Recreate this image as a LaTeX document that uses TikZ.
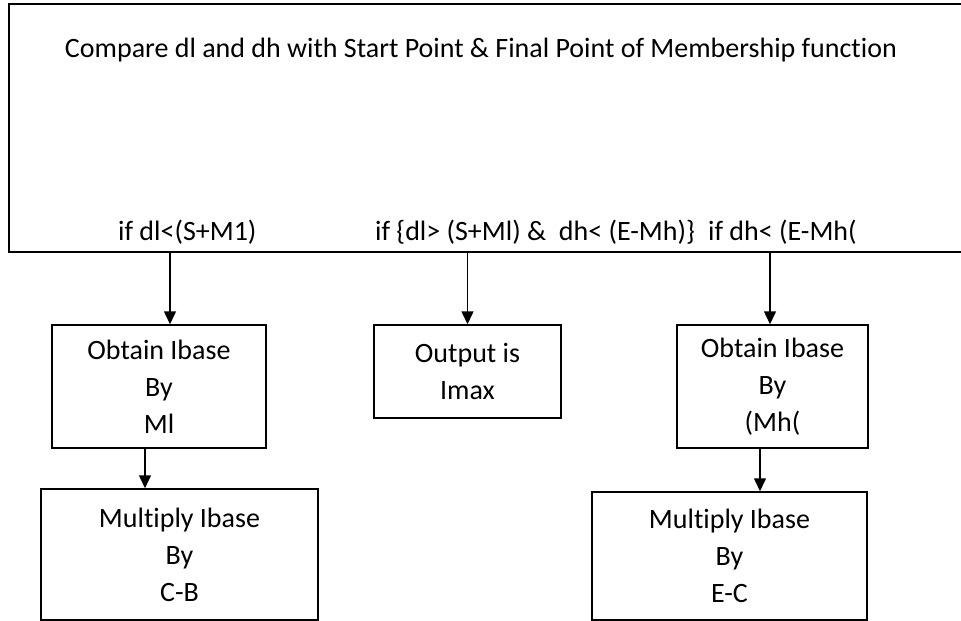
\documentclass[tikz,border=0pt]{standalone}
\usepackage{fontspec}
\setmainfont{Carlito}[Ligatures=NoCommon]
\usetikzlibrary{arrows.meta}
\tikzset{
  box/.style={draw, line width=1.5pt, rectangle, align=center, inner sep=0pt,
    font=\fontsize{28}{37}\selectfont},
  cond/.style={inner sep=0pt, anchor=west, font=\fontsize{28}{37}\selectfont},
  arr/.style={line width=1.5pt, -{Triangle[length=13pt,width=12pt]}},
}
\begin{document}
\begin{tikzpicture}[x=1pt,y=-1pt]
  \useasboundingbox (0,0) rectangle (961,621);
  \clip (0,0) rectangle (961,621);
  % top box, it runs off the right edge
  \node[box, minimum width=970pt, minimum height=248pt] (cmp) at (494,128) {};
  \node[cond, anchor=center] (title) at (481,50)
    {Compare dl and dh with Start Point \& Final Point of Membership function};
  % conditions along the bottom of the top box
  \node[cond] (condL) at (118,232) {if dl<(S+M1)};
  \node[cond] (condM) at (375,232) {if \{dl> (S+Ml) \&\ \ dh< (E-Mh)\}};
  \node[cond] (condR) at (708,232) {if dh< (E-Mh(};
  % second row
  \node[box, minimum width=214pt, minimum height=123pt] (obtL) at (159,386.5)
    {Obtain Ibase\\By\\Ml};
  \node[box, minimum width=187pt, minimum height=93pt] (outM) at (467.5,371.5)
    {Output is\\Imax};
  \node[box, minimum width=191pt, minimum height=123pt] (obtR) at (772.5,386.5)
    {Obtain Ibase\\By\\(Mh(};
  % third row
  \node[box, minimum width=277pt, minimum height=131pt] (mulL) at (179.5,554.5)
    {Multiply Ibase\\By\\C-B};
  \node[box, minimum width=275pt, minimum height=128pt] (mulR) at (729.5,556)
    {Multiply Ibase\\By\\E-C};
  % arrows
  \draw[arr] ([xshift=11pt]obtL.north |- cmp.south) -- ([xshift=11pt]obtL.north);
  \draw[arr] (outM.north |- cmp.south) -- (outM.north);
  \draw[arr] ([xshift=-2.5pt]obtR.north |- cmp.south) -- ([xshift=-2.5pt]obtR.north);
  \draw[arr] ([xshift=-14pt]obtL.south) -- ([xshift=-14pt]obtL.south |- mulL.north);
  \draw[arr] ([xshift=-12.5pt]obtR.south) -- ([xshift=-12.5pt]obtR.south |- mulR.north);
\end{tikzpicture}
\end{document}
